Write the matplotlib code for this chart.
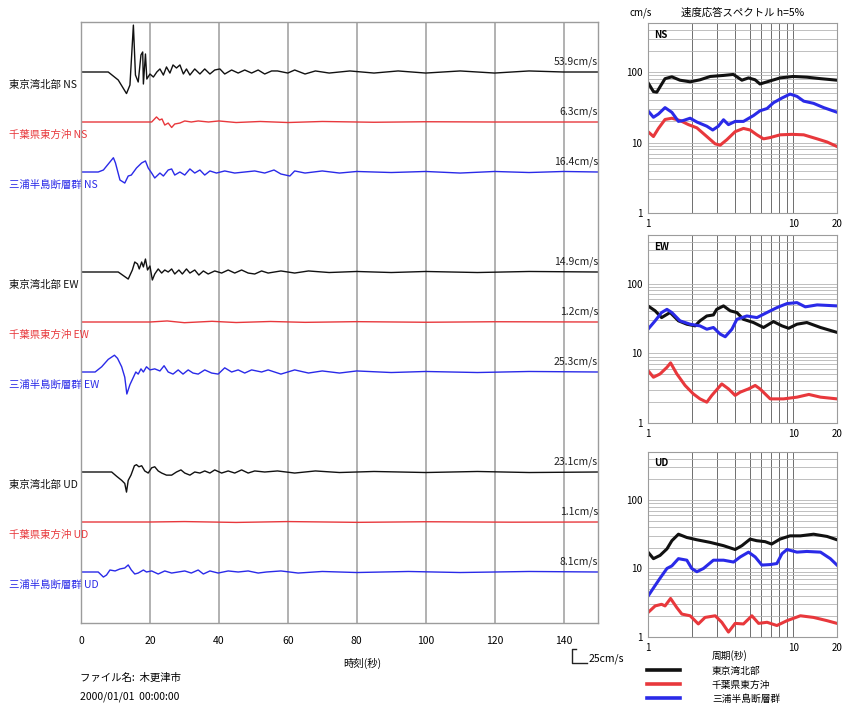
"""Velocity waveforms and response spectra for three scenario sources (Kisarazu)."""

import matplotlib
matplotlib.use("Agg")
import matplotlib.pyplot as plt
import numpy as np
from matplotlib.lines import Line2D
from matplotlib.ticker import FixedLocator, NullFormatter

plt.rcParams["font.family"] = ["Noto Sans CJK JP", "DejaVu Sans"]

STATIONS = ["東京湾北部", "千葉県東方沖", "三浦半島断層群"]
COMPONENTS = ["NS", "EW", "UD"]
COLORS = ["#111111", "#e8383c", "#2a2ae8"]
PEAK_LABELS = [["53.9", "6.3", "16.4"], ["14.9", "1.2", "25.3"], ["23.1", "1.1", "8.1"]]

# ---- waveforms: time (s) and velocity (cm/s) ----
NS_TOKYO_T = [0, 7.9, 10.8, 13.2, 14.2, 15.2, 15.8, 16.6, 17.4, 17.9, 18.1, 18.7, 19.1, 20.0, 21.0,
              22.0, 22.9, 23.9, 24.8, 25.8, 26.7, 27.7, 28.7, 29.7, 30.6, 31.6, 33.0, 34.5, 35.9,
              37.4, 38.8, 40.3, 41.7, 43.7, 45.6, 47.5, 49.5, 51.4, 53.3, 55.3, 57, 60, 62, 65, 68,
              72, 78, 85, 92, 100, 110, 120, 130, 140, 150]
NS_TOKYO_V = [0, 0, -9.2, -24.8, -15.0, 53.9, -3.5, -11.5, 19.6, 23.0, -13.8, 20.7, -8.1, -2.3, -5.8,
              0, 3.5, -3.5, 5.8, -1.2, 8.1, 4.6, 8.1, -2.3, 3.5, -3.5, 3.5, -2.3, 3.5,
              -2.3, 2.3, 3.5, -2.3, 2.3, -1.2, 2.3, -1.2, 2.3, -2.3, 1.2, 1.2, -1.2, 2.3, -2.3, 1.2,
              -1.2, 1.2, -1.2, 1.2, -1.2, 1.2, -1.2, 1.2, 0, 0]
NS_CHIBA_T = [0, 20.5, 21.9, 22.8, 23.5, 24.3, 25.3, 26.3, 27.2, 28.7, 30.1, 32.0, 34.0, 37.0, 40.0,
              45, 52, 60, 70, 85, 100, 120, 150]
NS_CHIBA_V = [0, 0, 5.8, 2.3, 3.5, -3.5, -1.2, -6.3, -2.3, -1.2, 1.2, 0, 1.2, 0, 1.2,
              -0.6, 0.6, -0.6, 0.6, -0.3, 0.3, 0, 0]
NS_MIURA_T = [0, 5.0, 6.5, 9.4, 10.0, 11.3, 12.7, 13.7, 14.6, 16.1, 17.6, 18.7, 19.5, 20.5, 21.4,
              22.9, 23.9, 25.3, 26.3, 27.2, 28.7, 30.1, 31.6, 33.0, 34.5, 35.9, 37.4, 39.3, 41.7,
              44.6, 47.5, 50.4, 53.3, 56, 58, 60.6, 62, 65, 70, 75, 80, 90, 100, 110, 120, 130,
              140, 150]
NS_MIURA_V = [0, 0, 2.3, 16.4, 10.4, -9.2, -12.7, -4.6, -3.5, 4.6, 10.4, 12.7, 4.6, -1.2, -6.9,
              -1.2, -4.6, 2.3, 3.5, -3.5, 0, -3.5, 3.5, -1.2, 2.3, -3.5, 1.2, -1.2, 1.2,
              -1.2, 0, 1.2, -1.2, 2.3, -2.3, -4.6, 1.2, -1.2, 1.2, -1.2, 0.6, -0.6, 0.6, -1.2, 0.6, -0.6,
              0.6, 0]

EW_TOKYO_T = [0, 10.8, 13.7, 14.9, 15.6, 16.4, 16.9, 17.6, 18.1, 18.7, 19.3, 20.0, 20.7, 21.4, 22.4,
              23.4, 24.3, 25.3, 26.3, 27.2, 28.4, 29.4, 30.6, 31.6, 33.0, 34.2, 35.5, 36.9, 38.8,
              40.8, 42.7, 44.6, 46.6, 48.5, 50.4, 52.4, 54.3, 58, 62, 66, 72, 80, 90, 100, 115,
              130, 150]
EW_TOKYO_V = [0, 0, -8.1, 2.3, 11.5, 9.2, 3.5, 11.5, 5.8, 14.9, 2.3, 6.9, -9.2, -2.3, 3.5,
              -1.2, 2.3, 0, 3.5, -2.3, 2.3, -2.3, 3.5, -1.2, 2.3, -3.5, 1.2, -2.3, 1.2,
              -1.2, 2.3, -1.2, 2.3, -1.2, -2.3, 1.2, -1.2, 1.2, -1.2, 1.2, -0.6, 0.6, -0.6, 0.6, -0.6,
              0.6, 0]
EW_CHIBA_T = [0, 20, 25, 30, 38, 45, 55, 65, 80, 100, 120, 150]
EW_CHIBA_V = [0, 0, 1.2, -0.8, 0.8, -0.6, 0.6, -0.4, 0.4, -0.3, 0.3, 0]
EW_MIURA_T = [0, 4.1, 6.0, 7.9, 9.7, 10.6, 11.8, 12.7, 13.3, 14.2, 15.2, 15.9, 16.6, 17.4, 18.1,
              19.0, 20.0, 21.4, 22.9, 24.1, 25.3, 26.7, 28.2, 29.6, 31.1, 32.5, 34.0, 35.9, 37.9,
              39.8, 41.7, 43.7, 45.6, 47.5, 49.5, 52.4, 54.3, 58, 62, 66, 70, 75, 80, 90, 100,
              115, 130, 150]
EW_MIURA_V = [0, 0, 6.0, 14.5, 19.3, 15.7, 6.0, -6.0, -25.3, -14.5, -6.0, 0, -2.4, 3.6, 0,
              6.0, 2.4, 3.6, 1.2, 7.2, 0, -2.4, 2.4, -2.4, 2.4, -1.2, -2.4, 2.4, -1.2,
              -2.4, 4.8, 0, 2.4, -1.2, 2.4, 0, 2.4, -2.4, 2.4, -1.2, 1.2, -1.2, 1.2, -0.6, 0.6,
              -0.6, 0.6, 0]

UD_TOKYO_T = [0, 8.9, 10.3, 11.8, 12.7, 13.2, 13.7, 14.5, 15.5, 16.1, 16.8, 17.6, 18.5, 19.5, 20.5,
              21.4, 22.4, 23.4, 24.8, 26.3, 27.7, 29.0, 30.1, 31.6, 33.0, 34.5, 35.9, 37.4, 38.8,
              40.8, 42.7, 44.6, 46.6, 48.5, 50.4, 53.3, 57, 62, 68, 75, 85, 100, 115, 130, 150]
UD_TOKYO_V = [0, 0, -4.8, -9.6, -13.2, -23.1, -9.6, -3.6, 7.2, 8.4, 6.0, 7.2, 1.2, -1.2, 4.8,
              6.0, 1.2, -1.2, -3.6, -3.6, 0, 2.4, -1.2, -3.6, 0, -1.2, 1.2, -1.2, 2.4,
              -1.2, 1.2, -1.2, 2.4, -1.2, 1.2, 0, 1.2, -1.2, 1.2, -0.6, 0.6, -0.6, 0.6, -0.6, 0]
UD_CHIBA_T = [0, 20, 30, 45, 60, 80, 100, 125, 150]
UD_CHIBA_V = [0, 0, 0.5, -0.5, 0.5, -0.4, 0.3, -0.2, 0]
UD_MIURA_T = [0, 5.0, 6.5, 7.4, 8.4, 9.9, 11.3, 12.7, 13.7, 14.6, 15.6, 16.6, 18.1, 19.0, 20.5,
              22.4, 24.3, 26.3, 28.2, 30.1, 32.0, 34.0, 35.5, 37.4, 39.8, 42.7, 45.6, 48.5, 51.4,
              53.8, 58, 63, 70, 80, 95, 110, 130, 150]
UD_MIURA_V = [0, 0, -5.8, -3.5, 2.3, 1.2, 3.5, 4.6, 8.1, 2.3, -2.3, -1.2, 2.3, 0, 1.2,
              -2.3, 1.2, -1.2, 0, 1.2, -1.2, 2.3, -2.3, 1.2, -1.2, 1.2, 0, 1.2, -1.2,
              0, 1.2, -1.2, 0.6, -0.6, 0.6, -0.6, 0.6, 0]

# ---- velocity response spectra: period (s) and Sv (cm/s) ----
NS_TOKYO_PER = [1.0, 1.09, 1.15, 1.21, 1.31, 1.46, 1.66, 1.95, 2.28, 2.68, 3.31, 3.87, 4.43, 4.92,
                5.46, 5.9, 6.6, 8.13, 10, 12.4, 15.4, 20]
NS_TOKYO_SV = [71, 53, 52, 62, 81, 86, 77, 73, 78, 87, 90, 93, 77, 83, 78, 68, 73, 83, 87, 85, 81, 77]
NS_CHIBA_PER = [1.0, 1.09, 1.18, 1.31, 1.46, 1.66, 1.90, 2.17, 2.54, 2.90, 3.14, 3.49, 3.98, 4.54,
                5.05, 5.62, 6.24, 6.94, 8.13, 9.8, 11.8, 14.6, 17.1, 20]
NS_CHIBA_SV = [14.3, 12.2, 15.9, 21.3, 22.2, 20.6, 18.0, 16.2, 12.2, 9.6, 9.2, 11.0, 14.3, 15.9,
               15.1, 12.9, 11.3, 11.8, 12.9, 13.1, 12.9, 11.3, 10.2, 8.8]
NS_MIURA_PER = [1.0, 1.09, 1.18, 1.31, 1.46, 1.62, 1.75, 1.95, 2.17, 2.54, 2.79, 3.05, 3.31, 3.58,
                3.98, 4.54, 5.32, 5.9, 6.6, 7.3, 8.36, 9.5, 10.6, 11.8, 13.8, 16.2, 20]
NS_MIURA_SV = [28.3, 22.9, 25.5, 31.4, 26.9, 20.0, 20.6, 22.2, 19.6, 17.1, 15.1, 17.1, 21.1, 18.0,
               20.0, 20.0, 24.2, 28.3, 30.5, 36.8, 43, 48.9, 45.4, 38.8, 36.1, 31.4, 27]

EW_TOKYO_PER = [1.0, 1.12, 1.24, 1.42, 1.62, 1.85, 2.11, 2.28, 2.54, 2.82, 2.97, 3.31, 3.68, 4.09,
                4.54, 5.32, 6.24, 7.3, 8.36, 9.3, 10.6, 12.4, 15.4, 20]
EW_TOKYO_SV = [48, 40.8, 32.6, 38.6, 29.3, 26.2, 24.8, 29.3, 34.4, 35.6, 42.8, 48, 40.8, 38.5,
               30.8, 27.7, 23.5, 28.6, 24.8, 22.9, 26.2, 27.7, 23.5, 20.0]
EW_CHIBA_PER = [1.0, 1.09, 1.21, 1.35, 1.43, 1.58, 1.80, 2.05, 2.28, 2.54, 2.75, 3.22, 3.58, 3.98,
                4.31, 4.92, 5.47, 5.9, 6.94, 8.58, 10.6, 12.8, 15.4, 20]
EW_CHIBA_SV = [5.66, 4.54, 5.06, 6.3, 7.3, 5.06, 3.46, 2.62, 2.22, 1.99, 2.49, 3.64, 3.09, 2.49,
               2.77, 3.09, 3.46, 3.09, 2.22, 2.22, 2.35, 2.57, 2.35, 2.22]
EW_MIURA_PER = [1.0, 1.12, 1.24, 1.35, 1.46, 1.66, 1.95, 2.28, 2.54, 2.82, 3.14, 3.40, 3.78, 4.09,
                4.79, 5.62, 6.58, 7.71, 9.05, 10.6, 12.1, 14.6, 20]
EW_MIURA_SV = [22.2, 29.3, 38.5, 42.8, 38.5, 29.3, 26.2, 24.8, 22.2, 23.5, 18.9, 17.3, 22.2, 30.8,
               34.4, 32.6, 38.5, 45.3, 51.8, 53.5, 46.5, 49.6, 48]

UD_TOKYO_PER = [1.0, 1.09, 1.21, 1.35, 1.46, 1.62, 1.85, 2.17, 2.68, 3.31, 3.98, 4.43, 5.05, 5.6,
                6.4, 7.1, 8.1, 9.5, 11.2, 13.8, 17.1, 20]
UD_TOKYO_SV = [17.3, 13.9, 15.5, 19.3, 25.4, 31.6, 28.3, 26.2, 24.0, 21.5, 18.9, 21.5, 26.8, 25.4,
               24.6, 22.7, 26.8, 29.9, 29.9, 31.6, 29.3, 26.2]
UD_CHIBA_PER = [1.0, 1.12, 1.24, 1.31, 1.43, 1.58, 1.71, 1.95, 2.22, 2.47, 2.90, 3.22, 3.58, 3.98,
                4.54, 5.19, 5.77, 6.6, 7.71, 9.05, 11.2, 13.8, 17.1, 20]
UD_CHIBA_SV = [2.27, 2.84, 3.0, 2.84, 3.65, 2.68, 2.16, 2.04, 1.55, 1.93, 2.04, 1.64, 1.18, 1.58,
               1.55, 2.04, 1.58, 1.64, 1.47, 1.73, 2.04, 1.93, 1.73, 1.58]
UD_MIURA_PER = [1.0, 1.09, 1.21, 1.35, 1.46, 1.62, 1.85, 2.0, 2.17, 2.41, 2.82, 3.31, 3.88, 4.31,
                4.92, 5.47, 6.08, 6.94, 7.71, 8.36, 9.05, 10.6, 12.4, 15.4, 18.0, 20]
UD_MIURA_SV = [3.94, 5.18, 7.2, 10, 10.9, 13.9, 13.2, 10, 8.96, 10, 13.2, 13.2, 12.4, 14.7,
               17.3, 14.7, 11.2, 11.4, 11.8, 16.4, 18.9, 17.3, 17.7, 17.3, 13.9, 11.2]

WAVES = [
    [(NS_TOKYO_T, NS_TOKYO_V), (NS_CHIBA_T, NS_CHIBA_V), (NS_MIURA_T, NS_MIURA_V)],
    [(EW_TOKYO_T, EW_TOKYO_V), (EW_CHIBA_T, EW_CHIBA_V), (EW_MIURA_T, EW_MIURA_V)],
    [(UD_TOKYO_T, UD_TOKYO_V), (UD_CHIBA_T, UD_CHIBA_V), (UD_MIURA_T, UD_MIURA_V)],
]
SPECTRA = [
    [(NS_TOKYO_PER, NS_TOKYO_SV), (NS_CHIBA_PER, NS_CHIBA_SV), (NS_MIURA_PER, NS_MIURA_SV)],
    [(EW_TOKYO_PER, EW_TOKYO_SV), (EW_CHIBA_PER, EW_CHIBA_SV), (EW_MIURA_PER, EW_MIURA_SV)],
    [(UD_TOKYO_PER, UD_TOKYO_SV), (UD_CHIBA_PER, UD_CHIBA_SV), (UD_MIURA_PER, UD_MIURA_SV)],
]

W, H = 848, 708
PX_PER_CMS = 0.87   # trace deflection in pixels per cm/s
ROW_PX = 50         # spacing of trace baselines
FS = 7.5


def fx(px):
    return px / W


def fy(py):
    return 1 - py / H


fig = plt.figure(figsize=(W / 100, H / 100), dpi=100)

# ---- waveform panel ----
wave_top, wave_bot = 22, 623
ax = fig.add_axes([fx(81), fy(wave_bot), fx(598) - fx(81), (wave_bot - wave_top) / H])
ax.set_xlim(0, 150)
ax.set_ylim(-(wave_bot - wave_top), 0)
ax.set_xticks(range(0, 150, 20))
ax.set_yticks([])
ax.grid(axis="x", color="#9c9c9c", lw=1.1)
ax.tick_params(axis="x", length=0, labelsize=FS, pad=9)
for sp in ax.spines.values():
    sp.set_color("#9c9c9c")
    sp.set_linewidth(1.0)

for ci, comp in enumerate(COMPONENTS):
    for si, station in enumerate(STATIONS):
        slot = 4 * ci + si + 1
        base = -ROW_PX * slot
        t, v = WAVES[ci][si]
        ax.plot(t, base + np.array(v) * PX_PER_CMS, color=COLORS[si], lw=1.0)
        base_px = wave_top + ROW_PX * slot
        fig.text(fx(9), fy(base_px + 13), f"{station} {comp}", color=COLORS[si],
                 fontsize=FS, ha="left", va="center")
        fig.text(fx(598), fy(base_px - 10), f"{PEAK_LABELS[ci][si]}cm/s", color="#222222",
                 fontsize=FS, ha="right", va="center")

fig.text(fx(362), fy(663), "時刻(秒)", fontsize=FS, ha="center", va="center")
fig.text(fx(80), fy(678), "ファイル名:  木更津市", fontsize=FS, ha="left", va="center")
fig.text(fx(80), fy(697), "2000/01/01  00:00:00", fontsize=FS, ha="left", va="center")

# scale bar
fig.add_artist(Line2D([fx(576), fx(572), fx(572), fx(587)],
                      [fy(649), fy(649), fy(663), fy(663)], color="#222222", lw=1.0))
fig.text(fx(589), fy(659), "25cm/s", fontsize=FS, ha="left", va="center")

# ---- response spectra ----
spec_boxes = [(23, 213), (235, 423), (452, 637)]
for ci, comp in enumerate(COMPONENTS):
    top, bot = spec_boxes[ci]
    sax = fig.add_axes([fx(648), fy(bot), fx(837) - fx(648), (bot - top) / H])
    sax.set_xscale("log")
    sax.set_yscale("log")
    sax.set_xlim(1, 20)
    sax.set_ylim(1, 500)
    sax.xaxis.set_major_locator(FixedLocator([1, 10, 20]))
    sax.xaxis.set_minor_locator(FixedLocator([2, 3, 4, 5, 6, 7, 8, 9]))
    sax.yaxis.set_major_locator(FixedLocator([1, 10, 100]))
    sax.yaxis.set_minor_locator(FixedLocator(
        [m * d for d in (1, 10, 100) for m in range(2, 10) if m * d < 500]))
    sax.set_xticklabels(["1", "10", "20"])
    sax.set_yticklabels(["1", "10", "100"])
    sax.xaxis.set_minor_formatter(NullFormatter())
    sax.yaxis.set_minor_formatter(NullFormatter())
    sax.grid(axis="y", which="both", color="#b4b4b4", lw=0.6)
    sax.grid(axis="x", which="both", color="#6e6e6e", lw=0.7)
    sax.tick_params(which="both", length=0, labelsize=7, pad=4)
    for sp in sax.spines.values():
        sp.set_color("#9c9c9c")
    for si in range(3):
        per, sv = SPECTRA[ci][si]
        sax.plot(per, sv, color=COLORS[si], lw=2.2)
    sax.text(0.03, 0.965, comp, transform=sax.transAxes, fontsize=7, fontweight="bold",
             ha="left", va="top")

fig.text(fx(630), fy(13), "cm/s", fontsize=7, ha="left", va="center")
fig.text(fx(681), fy(13), "速度応答スペクトル h=5%", fontsize=7.5, ha="left", va="center")

# legend
fig.text(fx(712), fy(656), "周期(秒)", fontsize=7, ha="left", va="center")
for si, station in enumerate(STATIONS):
    ly = 670 + 14 * si
    fig.add_artist(Line2D([fx(647), fx(680)], [fy(ly), fy(ly)], color=COLORS[si], lw=2.6))
    fig.text(fx(712), fy(ly + 1), station, fontsize=7, ha="left", va="center")

fig.savefig("out.png", dpi=100)
